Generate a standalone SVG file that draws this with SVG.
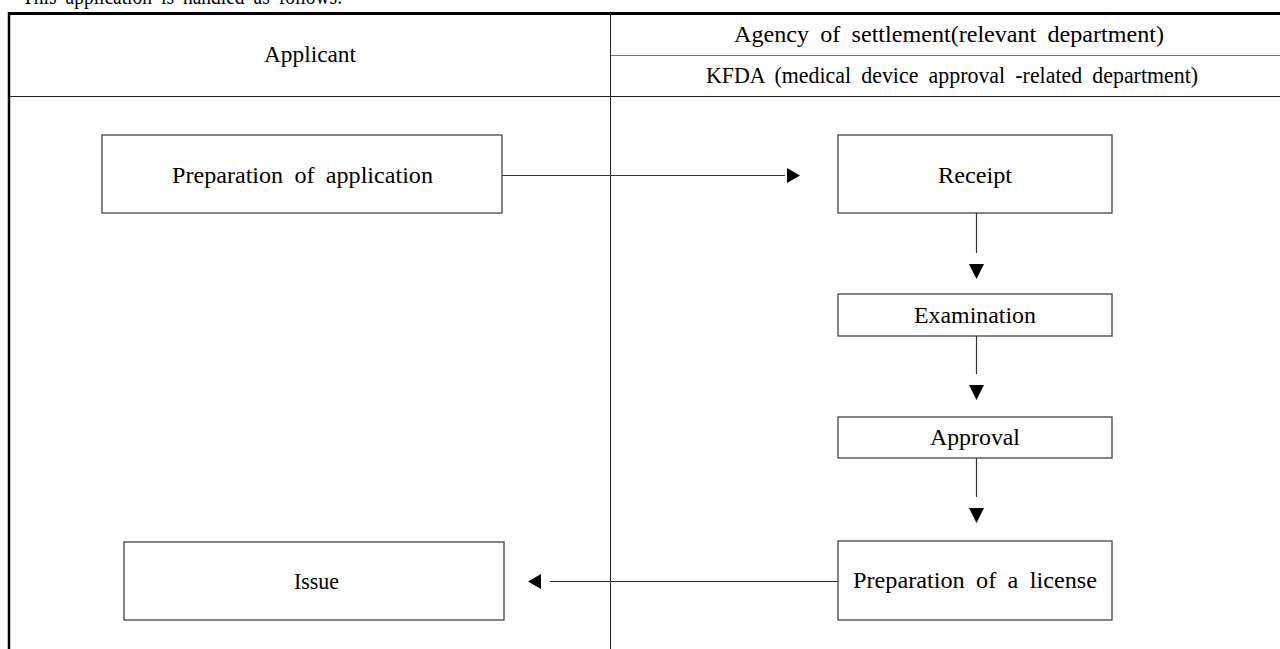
<svg xmlns="http://www.w3.org/2000/svg" width="1280" height="649" viewBox="0 0 1280 649">
  <style>
    text { font-family: "Liberation Serif", "Times New Roman", serif; font-size: 23px; fill: #000; word-spacing: 5px; }
    .box { fill: #fff; stroke: #444; stroke-width: 1.3; }
    .conn { stroke: #333; stroke-width: 1.2; fill: none; }
    .head { fill: #000; }
    .grid { stroke: #222; stroke-width: 1; }
  </style>
  <rect width="1280" height="649" fill="#fff"/>

  <!-- caption above the table -->
  <text x="22" y="4" textLength="320" lengthAdjust="spacingAndGlyphs">This application is handled as follows.</text>

  <!-- table frame -->
  <g id="table">
    <line x1="8" y1="13.5" x2="1280" y2="13.5" stroke="#000" stroke-width="3"/>
    <line x1="9" y1="12" x2="9" y2="649" stroke="#000" stroke-width="2.5"/>
    <line class="grid" x1="610.5" y1="14" x2="610.5" y2="649"/>
    <line x1="611" y1="55.5" x2="1280" y2="55.5" stroke="#777" stroke-width="1.2"/>
    <line class="grid" x1="9" y1="96.5" x2="1280" y2="96.5"/>
  </g>

  <g id="lane-applicant">
    <text x="264" y="62" textLength="92" lengthAdjust="spacingAndGlyphs">Applicant</text>
  </g>
  <g id="lane-agency">
    <text x="734" y="42" textLength="430" lengthAdjust="spacingAndGlyphs">Agency of settlement(relevant department)</text>
    <text x="706" y="83" textLength="492" lengthAdjust="spacingAndGlyphs">KFDA (medical device approval -related department)</text>
  </g>

  <!-- process steps -->
  <g id="prep-application">
    <rect class="box" x="102" y="135" width="400" height="78"/>
    <text x="172" y="183" textLength="261" lengthAdjust="spacingAndGlyphs">Preparation of application</text>
  </g>
  <g id="receipt">
    <rect class="box" x="838" y="135" width="274" height="78"/>
    <text x="938" y="183" textLength="74" lengthAdjust="spacingAndGlyphs">Receipt</text>
  </g>
  <g id="examination">
    <rect class="box" x="838" y="294" width="274" height="42"/>
    <text x="914" y="323" textLength="122" lengthAdjust="spacingAndGlyphs">Examination</text>
  </g>
  <g id="approval">
    <rect class="box" x="838" y="417" width="274" height="41"/>
    <text x="930" y="445" textLength="90" lengthAdjust="spacingAndGlyphs">Approval</text>
  </g>
  <g id="prep-license">
    <rect class="box" x="838" y="541" width="274" height="79"/>
    <text x="853" y="588" textLength="244" lengthAdjust="spacingAndGlyphs">Preparation of a license</text>
  </g>
  <g id="issue">
    <rect class="box" x="124" y="542" width="380" height="78"/>
    <text x="294" y="589" textLength="45" lengthAdjust="spacingAndGlyphs">Issue</text>
  </g>

  <!-- connectors with detached triangular heads -->
  <g id="connectors">
    <line class="conn" x1="502" y1="175.5" x2="785" y2="175.5"/>
    <polygon class="head" points="787,168 800,175.5 787,183"/>

    <line class="conn" x1="976.5" y1="213" x2="976.5" y2="253"/>
    <polygon class="head" points="969,264 984,264 976.5,279"/>

    <line class="conn" x1="976.5" y1="336" x2="976.5" y2="374"/>
    <polygon class="head" points="969,385 984,385 976.5,400"/>

    <line class="conn" x1="976.5" y1="458" x2="976.5" y2="497"/>
    <polygon class="head" points="969,508 984,508 976.5,523"/>

    <line class="conn" x1="838" y1="581.5" x2="550" y2="581.5"/>
    <polygon class="head" points="541,574 528,581.5 541,589"/>
  </g>
</svg>
